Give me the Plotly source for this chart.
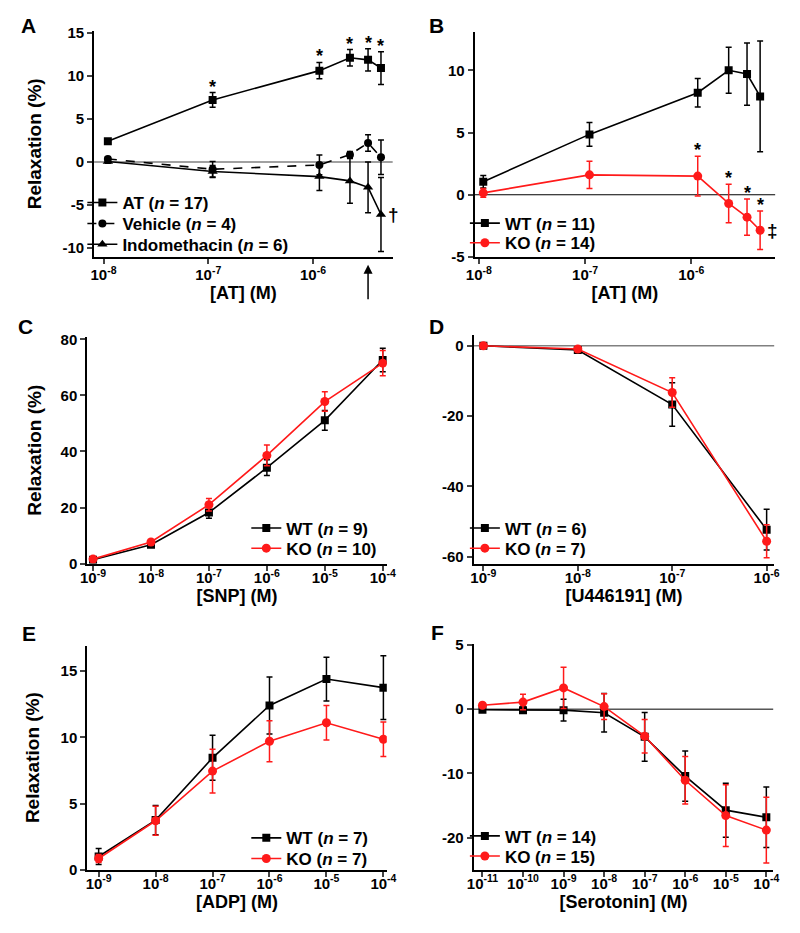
import numpy as np
import plotly.graph_objects as go

# ---- data ----
at_conc = [1.1e-8, 1.1e-7, 1.15e-6, 2.25e-6, 3.35e-6, 4.45e-6]

a_at = [2.4, 7.2, 10.6, 12.1, 11.85, 10.9]
a_at_err = [0.3, 0.85, 0.95, 0.95, 1.3, 1.9]
a_veh = [0.35, -0.85, -0.35, 0.85, 2.2, 0.55]
a_veh_err = [0.25, 0.9, 1.15, 0.35, 0.95, 2.0]
a_indo = [0.05, -1.1, -1.7, -2.2, -2.95, -6.1]
a_indo_err = [0.2, 0.7, 1.6, 2.6, 2.95, 4.3]

b_wt = [1.05, 4.85, 8.2, 10.0, 9.7, 7.9]
b_wt_err = [0.5, 0.95, 1.15, 1.85, 2.5, 4.45]
b_ko = [0.15, 1.6, 1.5, -0.7, -1.8, -2.85]
b_ko_err = [0.35, 1.1, 1.6, 1.55, 1.45, 1.55]

snp_conc = [1e-9, 1e-8, 1e-7, 1e-6, 1e-5, 1e-4]
c_wt = [1.4, 6.7, 18.2, 34.2, 51.1, 72.6]
c_wt_err = [0.5, 0.8, 2.0, 2.8, 3.5, 4.2]
c_ko = [1.6, 7.7, 21.0, 38.6, 57.8, 71.5]
c_ko_err = [0.5, 0.8, 2.2, 3.7, 3.5, 4.5]

u_conc = [1e-9, 1e-8, 1e-7, 1e-6]
d_wt = [0.0, -1.2, -16.7, -52.3]
d_wt_err = [0.3, 0.6, 6.2, 5.8]
d_ko = [0.0, -0.9, -13.3, -55.6]
d_ko_err = [0.3, 0.5, 4.2, 4.7]

adp_conc = [1e-9, 1e-8, 1e-7, 1e-6, 1e-5, 1e-4]
e_wt = [1.0, 3.75, 8.45, 12.4, 14.4, 13.75]
e_wt_err = [0.6, 1.1, 1.7, 2.15, 1.65, 2.4]
e_ko = [0.85, 3.7, 7.45, 9.7, 11.1, 9.85]
e_ko_err = [0.3, 1.1, 1.65, 1.55, 1.3, 1.3]

sero_conc = [1e-11, 1e-10, 1e-9, 1e-8, 1e-7, 1e-6, 1e-5, 1e-4]
f_wt = [-0.1, -0.15, -0.15, -0.55, -4.3, -10.4, -15.7, -16.8]
f_wt_err = [0.2, 0.5, 1.7, 3.0, 3.8, 3.9, 4.2, 4.7]
f_ko = [0.6, 1.1, 3.3, 0.4, -4.2, -11.05, -16.55, -18.8]
f_ko_err = [0.3, 1.2, 3.2, 2.0, 2.6, 3.7, 4.8, 5.1]

BLACK = 'black'
RED = '#ff1a1a'
FONT = 'Liberation Sans, Arial, sans-serif'
# the page body adds an 8px margin, so the figure is that much smaller
OFF = 8
W, H = 800 - 2 * OFF, 933 - 2 * OFF


def px_x(p):
    return (p - OFF) / W


def px_y(p):
    return 1 - (p - OFF) / H


def sup_ticks(exps):
    vals = [10.0 ** e for e in exps]
    text = ['10<sup>%d</sup>' % e for e in exps]
    return vals, text


fig = go.Figure()
legends = {}


def series(x, y, err, name, color, symbol, size, ax, text_x, row_y, dash='solid'):
    # one small legend per entry so the rows can sit as tightly as in the original
    key = 'legend' if not legends else 'legend%d' % (len(legends) + 1)
    legends[key] = dict(x=px_x(text_x - 50), y=px_y(row_y), xanchor='left', yanchor='middle',
                        bgcolor='rgba(0,0,0,0)', font=dict(family=FONT, size=17, color='black'),
                        itemwidth=30)
    fig.add_trace(go.Scatter(
        x=x, y=y, name=name, mode='lines+markers',
        line=dict(color=color, width=1.6, dash=dash),
        marker=dict(color=color, symbol=symbol, size=size),
        error_y=dict(type='data', array=err, color=color, thickness=1.5, width=3),
        xaxis='x' + ax, yaxis='y' + ax, legend=key,
    ))


series(at_conc, a_at, a_at_err, '<b>AT (<i>n</i> = 17)</b>', BLACK, 'square', 8, '', 125, 199)
series(at_conc, a_veh, a_veh_err, '<b>Vehicle (<i>n</i> = 4)</b>', BLACK, 'circle', 8, '', 125, 220.5, dash='dash')
series(at_conc, a_indo, a_indo_err, '<b>Indomethacin (<i>n</i> = 6)</b>', BLACK, 'triangle-up', 9, '', 125, 241.5)

series(at_conc, b_wt, b_wt_err, '<b>WT (<i>n</i> = 11)</b>', BLACK, 'square', 8, '2', 517, 220)
series(at_conc, b_ko, b_ko_err, '<b>KO (<i>n</i> = 14)</b>', RED, 'circle', 9, '2', 517, 240)

series(snp_conc, c_wt, c_wt_err, '<b>WT (<i>n</i> = 9)</b>', BLACK, 'square', 8, '3', 293, 530)
series(snp_conc, c_ko, c_ko_err, '<b>KO (<i>n</i> = 10)</b>', RED, 'circle', 9, '3', 293, 550.5)

series(u_conc, d_wt, d_wt_err, '<b>WT (<i>n</i> = 6)</b>', BLACK, 'square', 8, '4', 517, 530)
series(u_conc, d_ko, d_ko_err, '<b>KO (<i>n</i> = 7)</b>', RED, 'circle', 9, '4', 517, 550.5)

series(adp_conc, e_wt, e_wt_err, '<b>WT (<i>n</i> = 7)</b>', BLACK, 'square', 8, '5', 293, 845)
series(adp_conc, e_ko, e_ko_err, '<b>KO (<i>n</i> = 7)</b>', RED, 'circle', 9, '5', 293, 866)

series(sero_conc, f_wt, f_wt_err, '<b>WT (<i>n</i> = 14)</b>', BLACK, 'square', 8, '6', 517, 843)
series(sero_conc, f_ko, f_ko_err, '<b>KO (<i>n</i> = 15)</b>', RED, 'circle', 9, '6', 517, 863.5)


def xaxis(anchor, dom, rng, exps, title, standoff, label_shift):
    vals, text = sup_ticks(exps)
    return dict(
        anchor=anchor, type='log', domain=[px_x(dom[0]), px_x(dom[1])], range=rng,
        tickvals=vals, ticktext=text, showline=True, linecolor='black', linewidth=2,
        ticks='outside', ticklen=5, tickwidth=1.5, showgrid=False, zeroline=False,
        ticklabelstandoff=label_shift,
        tickfont=dict(family=FONT, size=15, color='black', weight='bold'),
        title=dict(text='<b>%s</b>' % title, standoff=standoff,
                   font=dict(family=FONT, size=18, color='black')),
    )


def yaxis(anchor, dom, rng, vals, text, title=None, standoff=15):
    d = dict(
        anchor=anchor, domain=[px_y(dom[1]), px_y(dom[0])], range=rng,
        tickvals=vals, ticktext=text, showline=True, linecolor='black', linewidth=2,
        ticks='outside', ticklen=5, tickwidth=1.5, showgrid=False, zeroline=False,
        tickfont=dict(family=FONT, size=15, color='black', weight='bold'),
    )
    if title:
        d['title'] = dict(text='<b>%s</b>' % title, standoff=standoff,
                          font=dict(family=FONT, size=19, color='black'))
    return d


fig.update_layout(
    width=W, height=H, margin=dict(l=0, r=0, t=0, b=0),
    plot_bgcolor='white', paper_bgcolor='white', showlegend=True,
    xaxis=xaxis('y', [87, 393], [-8.09, -5.24], [-8, -7, -6], '[AT] (M)', 3, -2),
    yaxis=yaxis('x', [24, 254], [-11.03, 15.23], [15, 10, 5, 0, -5, -10],
                ['15', '10', '5', '0', '-5', '-10'], 'Relaxation (%)', 16),
    xaxis2=xaxis('y2', [477, 785], [-8.04, -5.21], [-8, -7, -6], '[AT] (M)', 3, -2),
    yaxis2=yaxis('x2', [25, 254], [-5.0, 13.1], [10, 5, 0, -5], ['10', '5', '0', '-5']),
    xaxis3=xaxis('y3', [80, 387], [-9.1, -3.93], [-9, -8, -7, -6, -5, -4], '[SNP] (M)', 0, -6),
    yaxis3=yaxis('x3', [335, 566], [-0.1, 80.95], [0, 20, 40, 60, 80],
                 ['0', '20', '40', '60', '80'], 'Relaxation (%)', 14),
    xaxis4=xaxis('y4', [476, 784], [-9.103, -5.92], [-9, -8, -7, -6], '[U446191] (M)', 0, -6),
    yaxis4=yaxis('x4', [333, 566], [-62.04, 3.16], [0, -20, -40, -60], ['0', '-20', '-40', '-60']),
    xaxis5=xaxis('y5', [80, 387], [-9.2, -3.94], [-9, -8, -7, -6, -5, -4], '[ADP] (M)', 0, -6),
    yaxis5=yaxis('x5', [649, 877], [0, 16.93], [0, 5, 10, 15], ['0', '5', '10', '15'], 'Relaxation (%)', 16),
    xaxis6=xaxis('y6', [476, 783], [-11.217, -3.83], list(range(-11, -3)), '[Serotonin] (M)', 0, -6),
    # the original axis labels its top tick "5" at the spacing of 10
    yaxis6=yaxis('x6', [647, 877], [-24.97, 10.2], [10, 0, -10, -20], ['5', '0', '-10', '-20']),
    **legends,
)

# zero reference lines
for ax, col, w in [('', '#808080', 1.5), ('2', 'black', 1), ('4', '#808080', 1.5), ('6', 'black', 1)]:
    fig.add_shape(type='line', xref='x%s domain' % ax, yref='y' + ax, x0=0, x1=1, y0=0, y1=0,
                  line=dict(color=col, width=w), layer='below')

ann = []
# panel letters
for letter, x, y in [('A', 20, 19), ('B', 438, 19), ('C', 17, 325), ('D', 438, 325),
                     ('E', 20, 637), ('F', 439, 636)]:
    ann.append(dict(text='<b>%s</b>' % letter, x=px_x(x), y=px_y(y), xref='paper', yref='paper',
                    xanchor='center', yanchor='middle', showarrow=False,
                    font=dict(family=FONT, size=21, color='black')))

# significance marks
star_font = dict(family=FONT, size=18, color='black')
for i in range(1, 6):
    ann.append(dict(text='<b>*</b>', x=np.log10(at_conc[i]), y=a_at[i] + a_at_err[i], xref='x', yref='y',
                    yanchor='bottom', showarrow=False, yshift=-6, font=star_font))
for i in range(2, 6):
    ann.append(dict(text='<b>*</b>', x=np.log10(at_conc[i]), y=b_ko[i] + b_ko_err[i], xref='x2', yref='y2',
                    yanchor='bottom', showarrow=False, yshift=-6, font=star_font))
ann.append(dict(text='<b>†</b>', x=np.log10(at_conc[5]), y=a_indo[5], xref='x', yref='y',
                xshift=13, showarrow=False, font=dict(family=FONT, size=19, color='black')))
ann.append(dict(text='<b>‡</b>', x=np.log10(at_conc[5]), y=b_ko[5], xref='x2', yref='y2',
                xshift=12, showarrow=False, font=dict(family=FONT, size=19, color='black')))
# arrow under panel A
ann.append(dict(text='', x=np.log10(at_conc[4]), y=px_y(262), xref='x', yref='paper',
                showarrow=True, ax=0, ay=36, arrowhead=2, arrowsize=1.2, arrowwidth=1.5,
                arrowcolor='black'))

fig.update_layout(annotations=ann)

fig.write_html("out.html")
